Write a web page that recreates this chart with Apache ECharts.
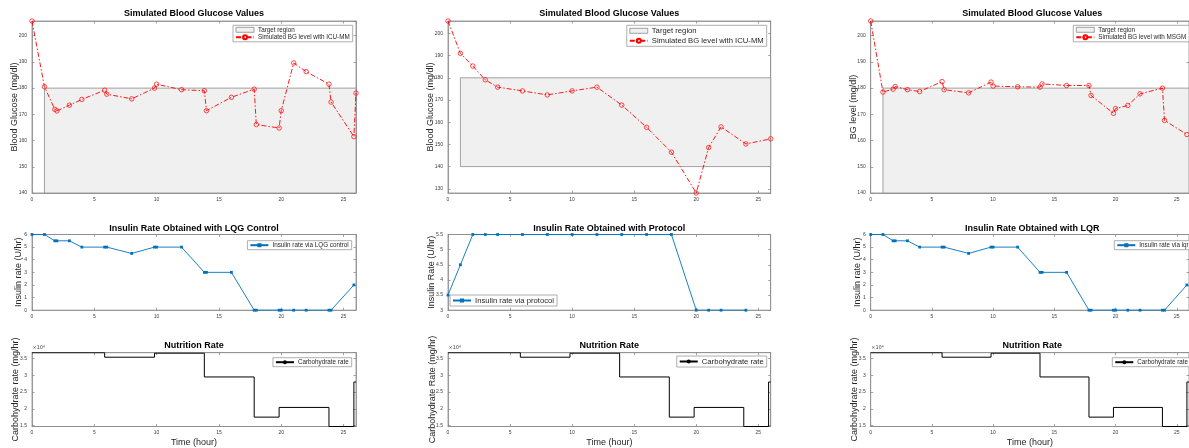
<!DOCTYPE html>
<html><head><meta charset="utf-8">
<script src="https://cdn.jsdelivr.net/npm/echarts@6/dist/echarts.min.js"></script>
<style>html,body{margin:0;padding:0;background:#fff}#c{width:1189px;height:448px}</style>
</head><body><div id="c"></div>
<script>
// ---------------- data ----------------
const targetStart = 1, targetEnd = 26, targetLow = 140, targetHigh = 180;

const bgTimeA = [0,1,1.83,2,3,4,5.83,6,8,9.83,10,12,13.83,14,16,17.83,18,19.83,20,21,22,23.83,24,25.83,26];
const bgICUMM = [205.6,180.5,171.9,171.3,173.5,175.7,179.2,177.7,175.9,180.0,181.5,179.4,179.0,171.4,176.5,179.6,166.1,164.8,171.4,189.6,186.3,181.5,174.7,161.5,178.1];

const bgTimeB = [0,1,2,3,4,6,8,10,12,14,16,18,20,21,22,24,26];
const bgProtocol = [205.6,191.0,185.3,179.1,175.8,174.1,172.3,174.1,175.8,167.7,157.7,146.5,128.1,148.6,157.9,150.2,152.5];

const bgTimeC = [0,1,1.83,2,3,4,5.83,6,8,9.83,10,12,13.83,14,16,17.83,18,19.83,20,21,22,23.83,24,25.83];
const bgMSGM = [205.6,178.5,179.6,180.6,179.4,178.7,182.5,179.4,178.2,182.3,180.8,180.5,180.4,181.6,181.0,181.0,177.2,170.4,172.2,173.4,177.8,180.0,167.7,162.3];

const insTimeA = [0,1,1.83,2,3,4,5.83,6,8,9.83,10,12,13.83,14,16,17.83,18,19.83,20,21,22,23.83,24,25.83];
const insLQG = [6,6,5.5,5.5,5.5,5,5,5,4.5,5,5,5,3,3,3,0,0,0,0,0,0,0,0,2];
const insTimeB = [0,1,2,3,4,6,8,10,12,14,16,18,20,21,22,24];
const insProtocol = [3.5,4.5,5.5,5.5,5.5,5.5,5.5,5.5,5.5,5.5,5.5,5.5,3,3,3,3];
const insTimeC = [0,1,1.83,2,3,4,5.83,6,8,9.83,10,12,13.83,14,16,17.83,18,19.83,20,21,22,23.83,24,25.83];
const insLQR = [6,6,5.5,5.5,5.5,5,5,5,4.5,5,5,5,3,3,3,0,0,0,0,0,0,0,0,2];

const carbTime = [0,5.83,9.83,13.83,17.83,19.83,23.83,25.83,26];
const carbRate = [36750,35400,36600,29500,17500,20400,14700,28000,28000];

// ---------------- layout ----------------
const FONT = "'Liberation Sans', Arial, Helvetica, sans-serif";
const AX = '#8c8c8c';
const LBL = '#404040';
const COLS = [{left:32, width:324}, {left:448, width:322.7}, {left:870.7, width:323.3}];
const ROWS = [{top:21, height:172}, {top:234.5, height:75.7}, {top:352.7, height:75}];

const zip = (xs, ys) => xs.map((x, i) => [x, ys[i]]);

const grids = [], xAxes = [], yAxes = [], series = [], titles = [], legends = [], graphics = [];

function addPanel(r, c, cfg) {
  const g = grids.length;
  grids.push({left: COLS[c].left, width: COLS[c].width, top: ROWS[r].top, height: ROWS[r].height,
    show: true, borderColor: AX, borderWidth: 0.8, backgroundColor: '#fff'});
  const xi = xAxes.length, yi = yAxes.length;
  const xBase = {type:'value', gridIndex:g, min:0, max:26, interval:5,
    axisLine:{show:true, onZero:false, lineStyle:{color:AX, width:0.8}},
    axisTick:{show:true, inside:true, length:2.5, lineStyle:{color:AX, width:0.8}},
    splitLine:{show:false}};
  xAxes.push(Object.assign({}, xBase, {position:'bottom',
    axisLabel:{show:true, fontSize:5, color:LBL, margin:4, fontFamily:FONT, showMinLabel:true, showMaxLabel:false},
    name: cfg.xName || '', nameLocation:'middle', nameGap:11.5, nameMoveOverlap:false,
    nameTextStyle:{fontSize:9, color:'#262626', fontFamily:FONT}}));
  xAxes.push(Object.assign({}, xBase, {position:'top', axisLabel:{show:false}}));
  const yBase = {type:'value', gridIndex:g, min:cfg.yMin, max:cfg.yMax,
    axisLine:{show:true, onZero:false, lineStyle:{color:AX, width:0.8}},
    axisTick:{show:true, inside:true, length:2.5, lineStyle:{color:AX, width:0.8}},
    splitLine:{show:false}};
  if (cfg.interval) yBase.interval = cfg.interval;
  if (cfg.splitNumber) yBase.splitNumber = cfg.splitNumber;
  yAxes.push(Object.assign({}, yBase, {position:'left',
    axisLabel:{show:true, fontSize:5, color:LBL, margin:5, fontFamily:FONT,
      showMinLabel:cfg.showMin, showMaxLabel:cfg.showMax, formatter: cfg.fmt || (v => String(v))},
    name: cfg.yName, nameLocation:'middle', nameGap: cfg.nameGap, nameRotate:90, nameMoveOverlap:false,
    nameTextStyle:{fontSize:9, color:'#262626', fontFamily:FONT}}));
  yAxes.push(Object.assign({}, yBase, {position:'right', axisLabel:{show:false}}));
  titles.push({text: cfg.title, left: COLS[c].left + COLS[c].width/2, top: cfg.titleTop, textAlign:'center', padding:0,
    textStyle:{fontSize:9, fontWeight:'bold', color:'#000', fontFamily:FONT}});
  return {xi, yi};
}

const bgLine = (name, t, v, a) => ({type:'line', name, xAxisIndex:a.xi, yAxisIndex:a.yi, data:zip(t, v),
  symbol:'circle', symbolSize:4.5, z:3,
  lineStyle:{color:'#ff0000', width:0.9, type:[5,2,1.5,2]},
  itemStyle:{color:'rgba(255,255,255,0)', borderColor:'#ff0000', borderWidth:0.7}});
const target = (a) => ({type:'custom', name:'Target region', xAxisIndex:a.xi, yAxisIndex:a.yi, z:1, silent:true,
  data:[[targetStart, targetLow, targetEnd, targetHigh]], encode:{x:[0,2], y:[1,3]},
  renderItem:(p, api) => {
    const p0 = api.coord([api.value(0), api.value(1)]);
    const p1 = api.coord([api.value(2), api.value(3)]);
    return {type:'rect', shape:{x:p0[0], y:p1[1], width:p1[0]-p0[0], height:p0[1]-p1[1]},
      style:{fill:'#f0f0f0', stroke:'#8c8c8c', lineWidth:0.8}};
  }});
const insLine = (name, t, v, a) => ({type:'line', name, xAxisIndex:a.xi, yAxisIndex:a.yi, data:zip(t, v),
  symbol:'rect', symbolSize:2.8, z:3, lineStyle:{color:'#0072bd', width:0.9}, itemStyle:{color:'#0072bd'}});
const carbLine = (a) => ({type:'line', name:'Carbohydrate rate', xAxisIndex:a.xi, yAxisIndex:a.yi, data:zip(carbTime, carbRate),
  step:'end', showSymbol:false, symbol:'none', z:3, lineStyle:{color:'#000', width:1}, itemStyle:{color:'#000'}});

function legend(pos, names, fs, extra) {
  return Object.assign({orient:'vertical', top:pos.top, itemWidth:18, itemHeight:5, itemGap:1.5,
    padding:[1.5,3,1.5,2], backgroundColor:'#fff', borderColor:'#9a9a9a', borderWidth:0.8, borderRadius:0,
    selectedMode:false, textStyle:{fontSize:fs, color:'#262626', fontFamily:FONT, padding:[0,0,0,-1]},
    data: names.map(n => n === 'Target region'
      ? {name:n, icon:'rect', itemStyle:{color:'#f0f0f0', borderColor:'#8c8c8c', borderWidth:0.8}}
      : {name:n})}, pos.right !== undefined ? {right:pos.right} : {left:pos.left}, extra || {});
}

const bgRange = v => [Math.min(targetLow, ...v), Math.max(targetHigh, ...v)];
const fmtCarb = v => String(+(v/1e4).toFixed(2));

// ---- column 1
let r1 = bgRange(bgICUMM);
let a = addPanel(0, 0, {yMin:r1[0], yMax:r1[1], interval:10, showMin:true, showMax:false,
  yName:'Blood Glucose (mg/dl)', nameGap:13, title:'Simulated Blood Glucose Values', titleTop:9.5});
series.push(target(a), bgLine('Simulated BG level with ICU-MM', bgTimeA, bgICUMM, a));
legends.push(legend({right:1189-352.7, top:25.3}, ['Target region','Simulated BG level with ICU-MM'], 6.3));

a = addPanel(1, 0, {yMin:Math.min(...insLQG), yMax:Math.max(...insLQG), interval:1, showMin:true, showMax:true,
  yName:'Insulin rate (U/hr)', nameGap:8.5, title:'Insulin Rate Obtained with LQG Control', titleTop:224});
series.push(insLine('Insulin rate via LQG control', insTimeA, insLQG, a));
legends.push(legend({right:1189-351.7, top:240.7}, ['Insulin rate via LQG control'], 6.3));

a = addPanel(2, 0, {yMin:Math.min(...carbRate), yMax:Math.max(...carbRate), showMin:false, showMax:false, fmt:fmtCarb,
  yName:'Carbohydrate rate (mg/hr)', nameGap:12, title:'Nutrition Rate', titleTop:341, xName:'Time (hour)'});
series.push(carbLine(a));
legends.push(legend({right:1189-351.7, top:357.7}, ['Carbohydrate rate'], 6.3));

// ---- column 2
let r2 = bgRange(bgProtocol);
a = addPanel(0, 1, {yMin:r2[0], yMax:r2[1], splitNumber:8, showMin:false, showMax:false,
  yName:'Blood Glucose (mg/dl)', nameGap:13, title:'Simulated Blood Glucose Values', titleTop:9.5});
series.push(target(a), bgLine('Simulated BG level with ICU-MM', bgTimeB, bgProtocol, a));
legends.push(legend({right:1189-766.7, top:25.3}, ['Target region','Simulated BG level with ICU-MM'], 7.7, {itemGap:2}));

a = addPanel(1, 1, {yMin:Math.min(...insProtocol), yMax:Math.max(...insProtocol), interval:0.5, showMin:true, showMax:true,
  yName:'Insulin Rate (U/hr)', nameGap:11.5, title:'Insulin Rate Obtained with Protocol', titleTop:224});
series.push(insLine('Insulin rate via protocol', insTimeB, insProtocol, a));
legends.push(legend({left:450, top:295}, ['Insulin rate via protocol'], 7.7));

a = addPanel(2, 1, {yMin:Math.min(...carbRate), yMax:Math.max(...carbRate), showMin:false, showMax:false, fmt:fmtCarb,
  yName:'Carbohydrate Rate (mg/hr)', nameGap:11, title:'Nutrition Rate', titleTop:341, xName:'Time (hour)'});
series.push(carbLine(a));
legends.push(legend({right:1189-766.7, top:356}, ['Carbohydrate rate'], 7.7));

// ---- column 3
let r3 = bgRange(bgMSGM);
a = addPanel(0, 2, {yMin:r3[0], yMax:r3[1], interval:10, showMin:true, showMax:false,
  yName:'BG level (mg/dl)', nameGap:13, title:'Simulated Blood Glucose Values', titleTop:9.5});
series.push(target(a), bgLine('Simulated BG level with MSGM', bgTimeC, bgMSGM, a));
legends.push(legend({left:1073.3, top:25.3}, ['Target region','Simulated BG level with MSGM'], 6.3));

a = addPanel(1, 2, {yMin:Math.min(...insLQR), yMax:Math.max(...insLQR), interval:1, showMin:true, showMax:true,
  yName:'Insulin rate (U/hr)', nameGap:8.5, title:'Insulin Rate Obtained with LQR', titleTop:224});
series.push(insLine('Insulin rate via lqr', insTimeC, insLQR, a));
legends.push(legend({left:1114.3, top:240.7}, ['Insulin rate via lqr'], 6.3));

a = addPanel(2, 2, {yMin:Math.min(...carbRate), yMax:Math.max(...carbRate), showMin:false, showMax:false, fmt:fmtCarb,
  yName:'Carbohydrate rate (mg/hr)', nameGap:12, title:'Nutrition Rate', titleTop:341, xName:'Time (hour)'});
series.push(carbLine(a));
legends.push(legend({left:1112.3, top:357.7}, ['Carbohydrate rate'], 6.3));

// exponent labels
COLS.forEach(c => graphics.push({type:'text', left:c.left + 0.5, top:345.5, z:10,
  style:{text:'\u00d710\u2074', fontSize:5, fill:LBL, fontFamily:"'DejaVu Sans', sans-serif"}}));

const chart = echarts.init(document.getElementById('c'), null, {renderer:'canvas'});
chart.setOption({backgroundColor:'#fff', animation:false, title:titles, legend:legends,
  grid:grids, xAxis:xAxes, yAxis:yAxes, series, graphic:graphics});
</script></body></html>
